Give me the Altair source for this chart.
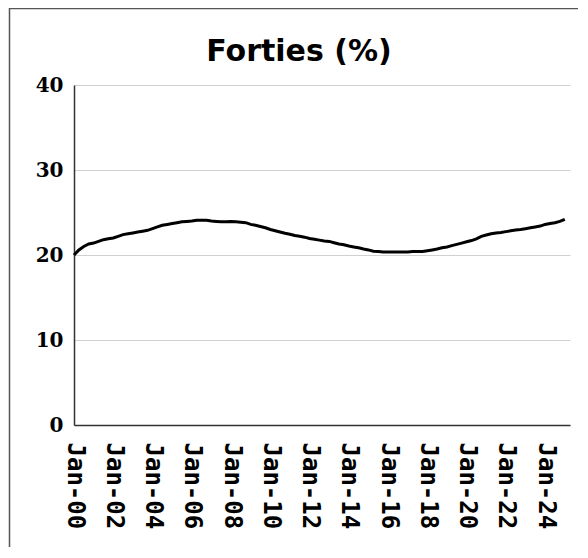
import altair as alt
import pandas as pd

# Quarterly readings (Jan, Apr, Jul, Oct) of the share, in percent
years = list(range(2000, 2026))
values_by_year = [
    [20.0, 20.6, 21.0, 21.3],
    [21.4, 21.6, 21.8, 21.9],
    [22.0, 22.2, 22.4, 22.5],
    [22.6, 22.7, 22.8, 22.9],
    [23.1, 23.3, 23.5, 23.6],
    [23.7, 23.8, 23.9, 23.95],
    [24.0, 24.1, 24.1, 24.1],
    [24.0, 23.95, 23.9, 23.9],
    [23.95, 23.9, 23.85, 23.8],
    [23.6, 23.5, 23.35, 23.2],
    [23.0, 22.85, 22.7, 22.55],
    [22.45, 22.3, 22.2, 22.1],
    [21.95, 21.85, 21.75, 21.65],
    [21.6, 21.45, 21.3, 21.2],
    [21.05, 20.95, 20.85, 20.7],
    [20.6, 20.45, 20.4, 20.35],
    [20.35, 20.35, 20.35, 20.35],
    [20.35, 20.4, 20.4, 20.4],
    [20.5, 20.6, 20.7, 20.85],
    [20.95, 21.1, 21.25, 21.4],
    [21.55, 21.7, 21.9, 22.2],
    [22.35, 22.5, 22.6, 22.65],
    [22.75, 22.85, 22.95, 23.0],
    [23.1, 23.2, 23.3, 23.4],
    [23.6, 23.7, 23.8, 23.95],
    [24.2],
]
quarter_months = [1, 4, 7, 10]
y_ticks = [0, 10, 20, 30, 40]
x_tick_years = list(range(2000, 2025, 2))
title_text = "Forties (%)"

rows = []
for yr, vals in zip(years, values_by_year):
    for m, v in zip(quarter_months, vals):
        rows.append({"date": f"{yr}-{m:02d}-01T00:00:00", "value": v})
df = pd.DataFrame(rows)

W, H = 496, 340

line = alt.Chart(df).mark_line(color="black", strokeWidth=3).encode(
    x=alt.X(
        "date:T",
        title=None,
        scale=alt.Scale(domain=[alt.DateTime(year=2000, month=1, date=1),
                                alt.DateTime(year=2025, month=4, date=8)]),
        axis=alt.Axis(
            values=[alt.DateTime(year=y, month=1, date=1) for y in x_tick_years],
            format="%b-%y",
            labelAngle=90,
            labelFont="DejaVu Sans Mono",
            labelFontWeight="bold",
            labelFontSize=24,
            labelColor="black",
            labelPadding=17,
            ticks=False,
            tickSize=0,
            grid=False,
            domainColor="#333333",
            domainWidth=1.5,
            labelOverlap=False,
        ),
    ),
    y=alt.Y(
        "value:Q",
        title=None,
        scale=alt.Scale(domain=[0, 40], nice=False),
        axis=alt.Axis(
            values=y_ticks,
            labelFont="DejaVu Serif",
            labelFontWeight="bold",
            labelFontSize=20,
            labelColor="black",
            labelPadding=11,
            ticks=False,
            tickSize=0,
            grid=True,
            gridColor="#d0d0d0",
            gridWidth=1,
            domainColor="#333333",
            domainWidth=1.5,
        ),
    ),
)

one = pd.DataFrame({"k": [0]})
title = alt.Chart(one).mark_text(
    text=title_text, font="DejaVu Sans", fontWeight="bold", fontSize=30,
    color="black", baseline="alphabetic", align="center"
).encode(x=alt.value(225), y=alt.value(-24))

border_top = alt.Chart(one).mark_rule(color="#555555", strokeWidth=1.5).encode(
    x=alt.value(-65), x2=alt.value(520), y=alt.value(-76.5)
)
border_left = alt.Chart(one).mark_rule(color="#555555", strokeWidth=1.5).encode(
    x=alt.value(-64.5), y=alt.value(-77), y2=alt.value(470)
)

chart = alt.layer(border_top, border_left, line, title).properties(
    width=W, height=H,
    autosize=alt.AutoSizeParams(type="none"),
    padding={"left": 66, "top": 77, "right": 8, "bottom": 122},
).configure_view(stroke=None)

chart.save("out.html", embed_options={"renderer": "svg", "actions": False})
